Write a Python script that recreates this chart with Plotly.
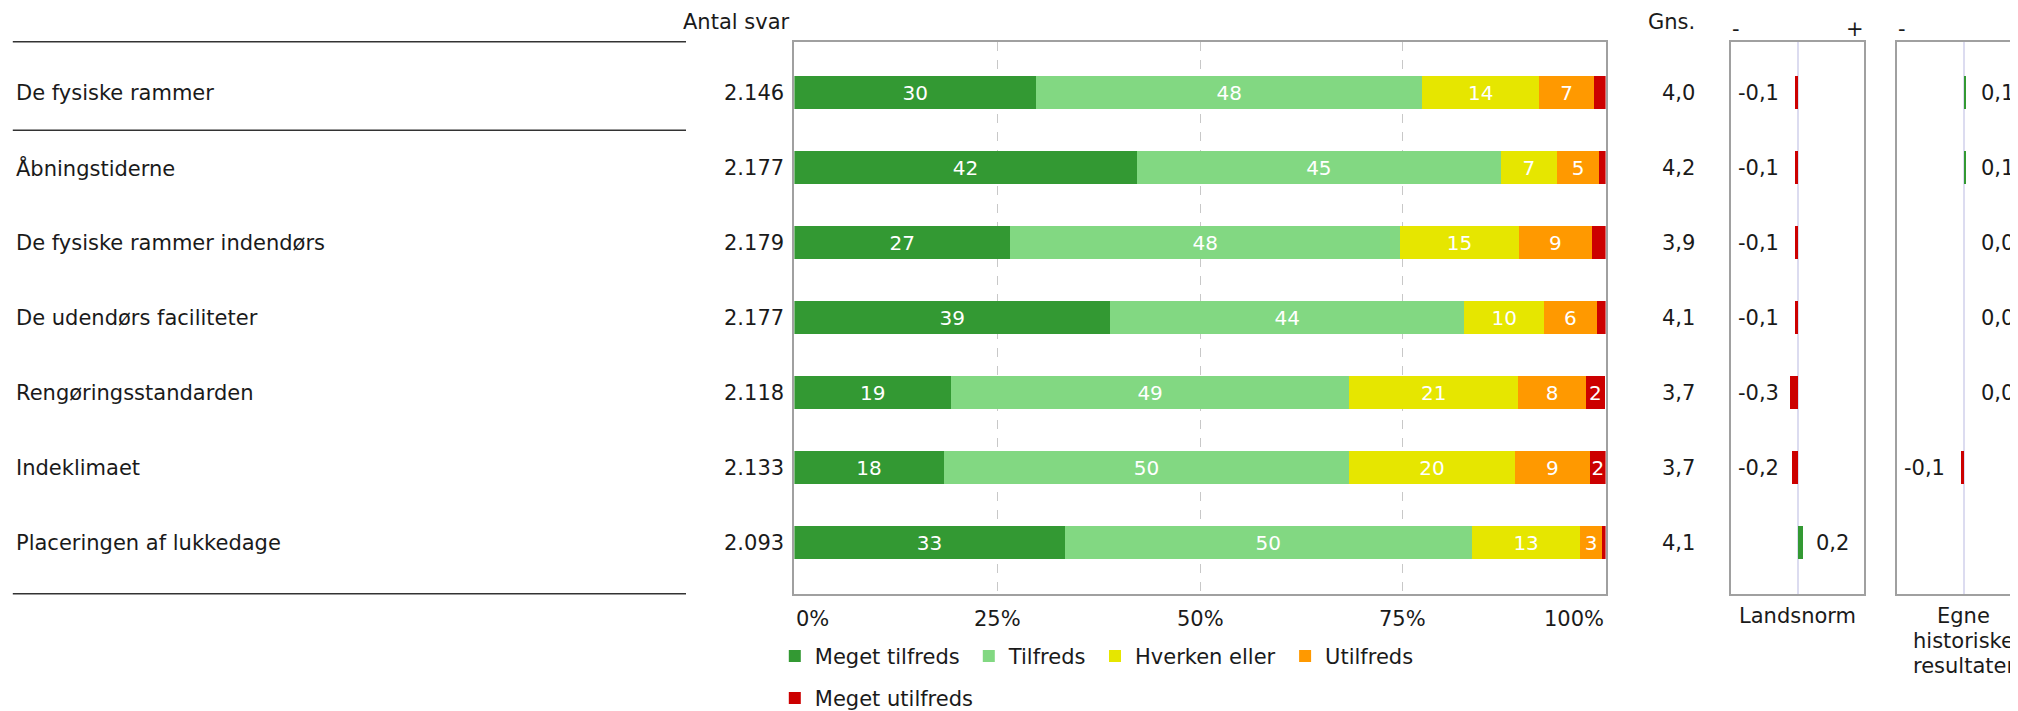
import plotly.graph_objects as go

# ---------------- data ----------------
categories = ["De fysiske rammer", "Åbningstiderne", "De fysiske rammer indendørs",
              "De udendørs faciliteter", "Rengøringsstandarden", "Indeklimaet",
              "Placeringen af lukkedage"]
antal_svar = [2146, 2177, 2179, 2177, 2118, 2133, 2093]
gns = [4.0, 4.2, 3.9, 4.1, 3.7, 3.7, 4.1]

series_names = ["Meget tilfreds", "Tilfreds", "Hverken eller", "Utilfreds", "Meget utilfreds"]
meget_tilfreds = [29.8, 42.2, 26.6, 38.9, 19.3, 18.4, 33.3]
tilfreds = [47.6, 44.9, 48.1, 43.7, 49.1, 50.0, 50.2]
hverken_eller = [14.4, 6.9, 14.6, 9.8, 20.8, 20.4, 13.4]
utilfreds = [6.8, 5.2, 9.0, 6.5, 8.4, 9.3, 2.6]
meget_utilfreds = [1.4, 0.8, 1.7, 1.1, 2.3, 1.9, 0.5]
series_values = [meget_tilfreds, tilfreds, hverken_eller, utilfreds, meget_utilfreds]

landsnorm = [-0.1, -0.1, -0.1, -0.1, -0.3, -0.2, 0.2]
egne_historiske = [0.1, 0.1, 0.0, 0.0, 0.0, -0.1, None]

pct_ticks = [0, 25, 50, 75, 100]
pct_labels = ["0%", "25%", "50%", "75%", "100%"]

# ---------------- styles ----------------
W, H = 2018, 711
OFF = 8  # page body margin
FONT = "DejaVu Sans, Verdana, sans-serif"
TXT = "#1a1a1a"
FS = 21
series_colors = ["#339933", "#82d882", "#e6e600", "#ff9900", "#cc0000"]
NEG, POS = "#cc0000", "#339933"
BOX = "#a0a0a0"


def px(x):
    return (x - OFF) / W


def py(y):
    return 1 - (y - OFF) / H


def dk_int(n):
    return f"{n:,}".replace(",", ".")


def dk_dec(v):
    return f"{v:.1f}".replace(".", ",")


PLOT_L, PLOT_R, PLOT_T, PLOT_B = 794.4, 1605.6, 41.7, 593.7
LN_L, LN_R = 1731.0, 1864.0
EG_L = 1897.0
DIFF_HALF = 2.5
unit_px = (LN_R - LN_L) / (2 * DIFF_HALF)
n = len(categories)
pad = 0.68
BAR_W = 0.44

fig = go.Figure()

legend_swatch_left = [794.3, 988.3, 1114.5, 1304.6, 794.3]
legend_center_y = [656.3, 656.3, 656.3, 656.3, 698.3]

for i, (name, vals, col) in enumerate(zip(series_names, series_values, series_colors)):
    leg = "legend" if i == 0 else f"legend{i + 1}"
    fig.add_trace(go.Bar(
        x=vals, y=categories, orientation="h", name=name,
        marker=dict(color=col, line=dict(width=0)), width=BAR_W,
        text=[str(round(v)) if v >= 1.8 else "" for v in vals],
        textposition="inside", insidetextanchor="middle", textangle=0,
        constraintext="none",
        textfont=dict(color="white", size=20, family=FONT),
        hoverinfo="skip", legend=leg,
    ))

fig.add_trace(go.Bar(
    x=landsnorm, y=categories, orientation="h", xaxis="x3", yaxis="y2",
    marker=dict(color=[NEG if v < 0 else POS for v in landsnorm], line=dict(width=0)),
    width=BAR_W, showlegend=False, hoverinfo="skip",
))
fig.add_trace(go.Bar(
    x=egne_historiske, y=categories, orientation="h", xaxis="x4", yaxis="y3",
    marker=dict(color=[NEG if (v is not None and v < 0) else POS for v in egne_historiske],
                line=dict(width=0)),
    width=BAR_W, showlegend=False, hoverinfo="skip",
))

ydomain = [py(PLOT_B), py(PLOT_T)]
yrange = [n - 1 + pad, -pad]

ann = []


def A(text, x, y, xref="paper", yref="paper", xanchor="center", xshift=0, size=FS, color=TXT):
    ann.append(dict(text=text, x=x, y=y, xref=xref, yref=yref, xanchor=xanchor,
                    yanchor="middle", xshift=xshift, showarrow=False,
                    font=dict(family=FONT, size=size, color=color)))


A("Antal svar", px(792), py(22), xanchor="right")
A("Gns.", px(1697), py(22), xanchor="right")
A("-", px(1735.7), py(28.5))
A("+", px(1855.3), py(28.5))
A("-", px(1901.7), py(28.5))
A("+", px(1901.7 + (1855.3 - 1735.7)), py(28.5))

for c, a, g, ln, eg in zip(categories, antal_svar, gns, landsnorm, egne_historiske):
    A(c, px(14), c, yref="y", xanchor="left")
    A(dk_int(a), px(786), c, yref="y", xanchor="right")
    A(dk_dec(g), px(1697), c, yref="y", xanchor="right")
    if ln < 0:
        A(dk_dec(ln), 0, c, xref="x3 domain", yref="y", xanchor="left", xshift=5)
    else:
        A(dk_dec(ln), 0, c, xref="x3", yref="y", xanchor="left", xshift=16)
    if eg is not None:
        if eg < 0:
            A(dk_dec(eg), 0, c, xref="x4 domain", yref="y", xanchor="left", xshift=5)
        else:
            A(dk_dec(eg), 0, c, xref="x4", yref="y", xanchor="left", xshift=15)

for t, lab in zip(pct_ticks, pct_labels):
    xa = "left" if t == pct_ticks[0] else ("right" if t == pct_ticks[-1] else "center")
    A(lab, t, py(618.5), xref="x", xanchor=xa)

A("Landsnorm", 0, py(616), xref="x3")
for k, word in enumerate("Egne historiske resultater".split()):
    A(word, 0, py(616 + 25 * k), xref="x4")

shapes = []
for yref, yv in [("y domain", 1), ("y domain", 0), ("y", 0.5)]:
    shapes.append(dict(type="line", xref="paper", yref=yref, x0=px(12.8), x1=px(686),
                       y0=yv, y1=yv, line=dict(color="#333333", width=1.5)))

layout = dict(
    width=W, height=H, margin=dict(l=0, r=0, t=0, b=0),
    paper_bgcolor="white", plot_bgcolor="white",
    barmode="stack", font=dict(family=FONT, size=FS, color=TXT),
    uniformtext=dict(minsize=20, mode="show"),
    xaxis=dict(domain=[px(PLOT_L), px(PLOT_R)], range=[0, 100], anchor="y",
               showline=True, mirror=True, linecolor=BOX, linewidth=1.5,
               tickvals=pct_ticks[1:-1], showticklabels=False, ticks="",
               showgrid=True, gridcolor="#c8c8c8", gridwidth=1, griddash="dash",
               zeroline=False, fixedrange=True),
    yaxis=dict(domain=ydomain, range=yrange, type="category", anchor="x",
               showline=True, mirror=True, linecolor=BOX, linewidth=1.5,
               showticklabels=False, ticks="", showgrid=False, zeroline=False),
    xaxis3=dict(domain=[px(LN_L), px(LN_R)], range=[-DIFF_HALF, DIFF_HALF], anchor="y2",
                showline=True, mirror=True, linecolor=BOX, linewidth=1.5,
                tickvals=[], showgrid=False, zeroline=True, zerolinecolor="#dcdcf0",
                zerolinewidth=1.5),
    yaxis2=dict(domain=ydomain, range=yrange, type="category", anchor="x3", matches="y",
                showline=True, mirror=True, linecolor=BOX, linewidth=1.5,
                showticklabels=False, ticks="", showgrid=False),
    xaxis4=dict(domain=[px(EG_L), 1.0],
                range=[-DIFF_HALF, -DIFF_HALF + (W + OFF - EG_L) / unit_px], anchor="y3",
                showline=True, mirror=True, linecolor=BOX, linewidth=1.5,
                tickvals=[], showgrid=False, zeroline=True, zerolinecolor="#dcdcf0",
                zerolinewidth=1.5),
    yaxis3=dict(domain=ydomain, range=yrange, type="category", anchor="x4", matches="y",
                showline=True, mirror=False, linecolor=BOX, linewidth=1.5,
                showticklabels=False, ticks="", showgrid=False),
    annotations=ann, shapes=shapes,
)

for i in range(len(series_names)):
    key = "legend" if i == 0 else f"legend{i + 1}"
    layout[key] = dict(x=px(legend_swatch_left[i] - 19.5), y=py(legend_center_y[i]),
                       xanchor="left", yanchor="middle", orientation="v",
                       bgcolor="rgba(0,0,0,0)", borderwidth=0,
                       font=dict(family=FONT, size=FS, color=TXT))

fig.update_layout(**layout)
fig.write_html("out.html")
